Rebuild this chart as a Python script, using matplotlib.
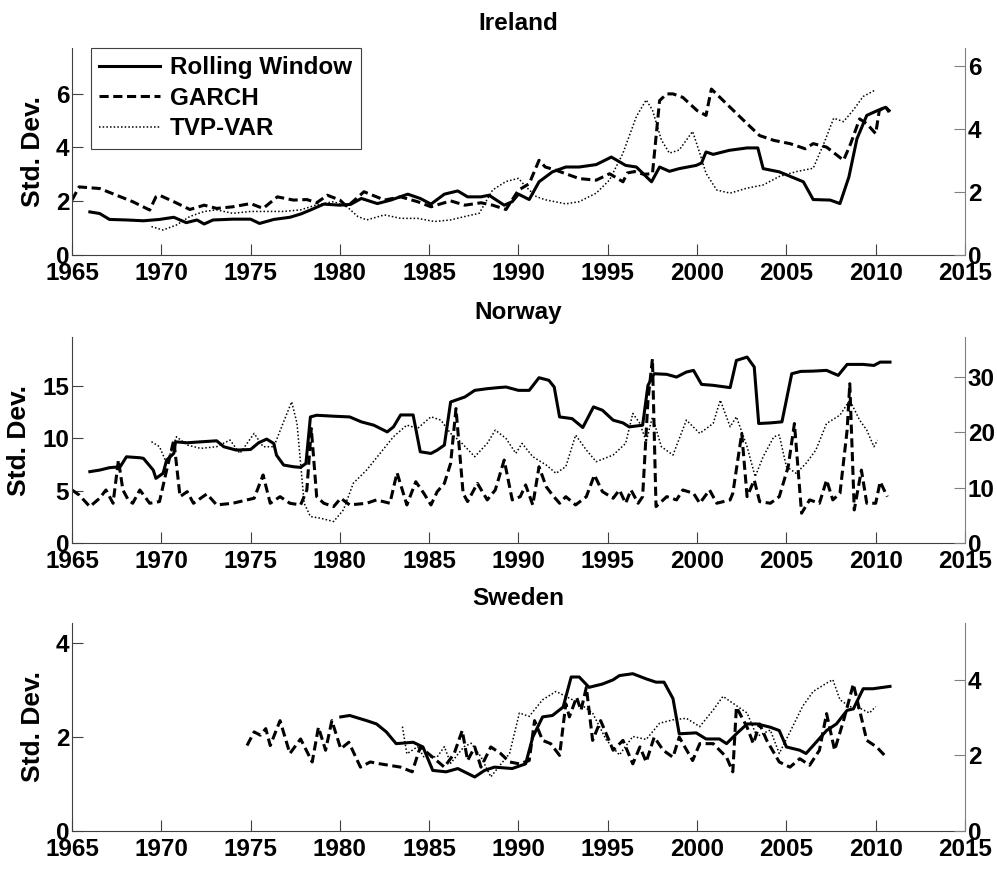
import numpy as np
import matplotlib
matplotlib.use("Agg")
import matplotlib.pyplot as plt

plt.rcParams['font.family'] = ['Liberation Sans', 'DejaVu Sans']
plt.rcParams['font.weight'] = 'bold'

# ---- Ireland ----
ie_roll_t = [1966.0, 1966.55, 1967.1, 1968.05, 1969.0, 1969.9, 1970.7, 1971.4, 1972.0, 1972.4,
             1972.9, 1974.0, 1975.0, 1975.5, 1976.3, 1977.2, 1977.8, 1978.35, 1979.1, 1980.0,
             1980.6, 1981.2, 1982.1, 1982.85, 1983.8, 1984.5, 1985.1, 1985.85, 1986.6, 1987.15,
             1987.9, 1988.35, 1989.2, 1989.65, 1990.0, 1990.6, 1991.15, 1991.9, 1992.65, 1993.4,
             1994.35, 1995.2, 1996.0, 1996.6, 1997.45, 1997.9, 1998.45, 1999.0, 1999.95, 2000.25,
             2000.5, 2000.9, 2001.8, 2002.8, 2003.4, 2003.7, 2004.6, 2005.95, 2006.5, 2007.45,
             2008.0, 2008.5, 2008.95, 2009.5, 2010.1, 2010.55, 2010.75]
ie_roll_v = [1.60, 1.54, 1.32, 1.30, 1.27, 1.32, 1.40, 1.20, 1.30, 1.15,
             1.30, 1.33, 1.33, 1.17, 1.32, 1.40, 1.52, 1.67, 1.89, 1.85,
             1.88, 2.10, 1.91, 2.04, 2.26, 2.10, 1.89, 2.26, 2.38, 2.16,
             2.16, 2.22, 1.85, 1.98, 2.26, 2.06, 2.72, 3.09, 3.27, 3.27,
             3.36, 3.64, 3.33, 3.27, 2.72, 3.27, 3.11, 3.21, 3.33, 3.42,
             3.83, 3.74, 3.89, 3.98, 3.98, 3.21, 3.09, 2.72, 2.06, 2.04,
             1.91, 2.90, 4.32, 5.19, 5.37, 5.49, 5.37]

ie_garch_t = [1965.0, 1965.4, 1966.55, 1967.5, 1968.4, 1969.35, 1969.7, 1969.9, 1970.7, 1971.6,
              1972.4, 1973.1, 1974.0, 1975.0, 1975.7, 1976.5, 1977.4, 1978.15, 1978.7, 1979.3,
              1980.0, 1980.4, 1981.35, 1982.5, 1983.4, 1984.35, 1985.1, 1986.2, 1987.0, 1987.9,
              1988.55, 1989.3, 1990.0, 1990.6, 1991.15, 1991.5, 1992.1, 1993.4, 1994.35, 1995.1,
              1995.85, 1996.1, 1996.5, 1997.0, 1997.5, 1997.9, 1998.3, 1998.65, 1999.2, 2000.0,
              2000.5, 2000.8, 2001.65, 2002.8, 2003.5, 2004.3, 2005.2, 2006.05, 2006.5, 2007.25,
              2008.2, 2008.6, 2009.1, 2009.5, 2010.0, 2010.2, 2010.55, 2010.75]
ie_garch_v = [2.04, 2.53, 2.47, 2.22, 1.98, 1.67, 2.16, 2.22, 1.98, 1.69,
              1.85, 1.73, 1.79, 1.91, 1.73, 2.16, 2.04, 2.06, 1.94, 2.22,
              2.04, 1.79, 2.35, 2.04, 2.16, 1.98, 1.79, 2.01, 1.85, 1.94,
              1.85, 1.69, 2.41, 2.65, 3.52, 3.27, 3.15, 2.84, 2.78, 3.02,
              2.72, 3.05, 3.10, 3.00, 3.02, 5.74, 5.99, 5.99, 5.86, 5.37,
              5.19, 6.17, 5.62, 4.88, 4.44, 4.26, 4.14, 3.95, 4.14, 4.01,
              3.52, 4.14, 5.06, 4.88, 4.51, 5.37, 5.52, 5.31]

ie_tvp_t = [1969.45, 1970.1, 1970.85, 1971.6, 1972.4, 1973.1, 1974.0, 1975.0, 1975.9, 1976.85,
            1977.8, 1978.7, 1979.65, 1980.4, 1981.0, 1981.5, 1982.5, 1983.4, 1984.35, 1985.3,
            1986.2, 1987.15, 1987.8, 1988.55, 1989.3, 1990.0, 1990.4, 1991.0, 1991.5, 1992.65,
            1993.4, 1994.35, 1995.1, 1995.85, 1996.6, 1997.15, 1997.5, 1998.0, 1998.45, 1999.0,
            1999.75, 2000.15, 2000.5, 2001.1, 2001.85, 2002.8, 2003.7, 2004.6, 2005.6, 2006.5,
            2007.1, 2007.65, 2008.2, 2008.75, 2009.3, 2010.0]
ie_tvp_v = [0.90, 0.79, 0.95, 1.22, 1.38, 1.43, 1.32, 1.38, 1.38, 1.38,
            1.43, 1.59, 1.69, 1.53, 1.22, 1.11, 1.27, 1.16, 1.16, 1.06,
            1.11, 1.24, 1.32, 2.06, 2.33, 2.43, 2.17, 1.85, 1.75, 1.62,
            1.69, 1.96, 2.38, 3.23, 4.39, 4.92, 4.60, 3.65, 3.23, 3.33,
            3.92, 3.23, 2.59, 2.06, 1.96, 2.12, 2.22, 2.49, 2.65, 2.75,
            3.54, 4.34, 4.23, 4.60, 5.03, 5.24]

# ---- Norway ----
no_roll_t = [1966.0, 1966.55, 1967.1, 1967.7, 1968.05, 1968.8, 1969.0, 1969.55, 1969.7, 1970.1,
             1970.3, 1970.7, 1970.8, 1971.45, 1972.2, 1973.1, 1973.5, 1974.2, 1975.0, 1975.45,
             1975.9, 1976.3, 1976.45, 1976.85, 1977.4, 1977.8, 1978.1, 1978.35, 1978.7, 1979.65,
             1980.55, 1981.2, 1981.9, 1982.65, 1983.0, 1983.4, 1984.1, 1984.5, 1985.1, 1985.45,
             1985.85, 1986.2, 1987.0, 1987.55, 1988.25, 1988.85, 1989.3, 1990.0, 1990.6, 1991.15,
             1991.7, 1992.0, 1992.3, 1993.0, 1993.6, 1994.2, 1994.7, 1995.3, 1995.85, 1996.2,
             1996.95, 1997.25, 1997.6, 1998.3, 1998.85, 1999.4, 1999.8, 2000.25, 2000.9, 2001.85,
             2002.2, 2002.8, 2003.2, 2003.45, 2004.1, 2004.75, 2005.3, 2005.8, 2006.5, 2007.25,
             2007.9, 2008.4, 2009.3, 2009.9, 2010.25, 2010.8]
no_roll_v = [6.83, 6.98, 7.21, 7.30, 8.25, 8.16, 8.10, 6.98, 6.19, 6.67,
             7.94, 8.57, 9.68, 9.59, 9.68, 9.78, 9.21, 8.89, 8.95, 9.59,
             9.94, 9.52, 8.41, 7.46, 7.30, 7.24, 7.62, 12.06, 12.22, 12.13,
             12.06, 11.59, 11.27, 10.63, 11.11, 12.25, 12.25, 8.73, 8.57, 8.89,
             9.37, 13.49, 13.97, 14.60, 14.76, 14.86, 14.92, 14.60, 14.60, 15.81,
             15.56, 14.92, 12.06, 11.90, 11.05, 13.02, 12.70, 11.75, 11.49, 11.11,
             11.27, 15.08, 16.19, 16.13, 15.87, 16.35, 16.51, 15.17, 15.08, 14.86,
             17.46, 17.78, 16.83, 11.43, 11.49, 11.59, 16.19, 16.41, 16.44, 16.51,
             16.03, 17.08, 17.08, 16.98, 17.30, 17.30]

no_garch_t = [1965.0, 1965.4, 1966.0, 1966.55, 1966.9, 1967.3, 1967.6, 1967.85, 1968.15, 1968.4,
              1968.8, 1969.35, 1969.9, 1970.3, 1970.7, 1971.05, 1971.45, 1971.8, 1972.55, 1973.1,
              1974.0, 1974.8, 1975.2, 1975.7, 1976.1, 1976.65, 1977.2, 1977.8, 1978.15, 1978.4,
              1978.7, 1979.1, 1979.65, 1980.05, 1980.55, 1981.5, 1982.05, 1982.8, 1983.2, 1983.75,
              1984.25, 1984.7, 1985.1, 1985.45, 1985.85, 1986.2, 1986.5, 1986.9, 1987.15, 1987.7,
              1988.25, 1988.7, 1989.2, 1989.65, 1990.1, 1990.4, 1990.8, 1991.15, 1991.55, 1991.9,
              1992.3, 1992.65, 1993.2, 1993.8, 1994.25, 1994.7, 1995.3, 1995.65, 1996.0, 1996.3,
              1996.7, 1996.95, 1997.25, 1997.5, 1997.7, 1998.3, 1998.85, 1999.2, 1999.8, 2000.15,
              2000.7, 2001.1, 2001.85, 2002.0, 2002.5, 2002.8, 2003.2, 2003.5, 2004.1, 2004.6,
              2005.1, 2005.45, 2005.85, 2006.3, 2006.85, 2007.25, 2007.6, 2008.0, 2008.4, 2008.55,
              2008.8, 2009.2, 2009.5, 2010.0, 2010.25, 2010.65]
no_garch_v = [5.08, 4.60, 3.49, 4.29, 5.08, 3.81, 7.94, 5.08, 4.13, 3.81,
              5.08, 3.81, 3.97, 6.98, 9.84, 4.44, 4.92, 3.81, 4.70, 3.65,
              3.81, 4.13, 4.29, 6.51, 3.81, 4.44, 3.81, 3.65, 5.08, 10.95,
              4.44, 3.81, 3.49, 4.29, 3.65, 3.81, 4.13, 3.81, 6.73, 3.65,
              5.87, 4.76, 3.65, 4.92, 5.71, 7.62, 12.86, 4.76, 3.97, 5.71,
              4.13, 5.08, 7.94, 4.13, 4.44, 5.56, 3.65, 7.30, 5.40, 4.60,
              3.81, 4.44, 3.65, 4.44, 6.51, 4.92, 4.29, 5.08, 3.81, 5.08,
              3.81, 4.44, 13.65, 17.62, 3.49, 4.44, 4.13, 5.08, 4.76, 3.81,
              5.08, 3.81, 4.13, 4.76, 10.48, 4.44, 6.03, 3.97, 3.81, 4.44,
              7.30, 11.43, 2.86, 4.13, 3.81, 6.03, 4.13, 4.76, 10.79, 15.24,
              3.17, 6.98, 3.81, 3.81, 5.87, 4.44]

no_tvp_t = [1969.45, 1969.9, 1970.3, 1970.85, 1971.45, 1972.2, 1973.1, 1973.85, 1974.4, 1975.2,
            1975.7, 1976.3, 1976.85, 1977.3, 1977.6, 1978.0, 1978.35, 1978.9, 1979.65, 1980.2,
            1980.75, 1981.5, 1982.25, 1983.0, 1983.75, 1984.35, 1985.1, 1985.65, 1986.2, 1986.75,
            1987.55, 1988.25, 1988.7, 1989.3, 1989.85, 1990.2, 1990.8, 1991.55, 1992.1, 1992.65,
            1993.2, 1993.8, 1994.35, 1995.3, 1996.0, 1996.4, 1996.8, 1997.15, 1997.5, 1998.0,
            1998.65, 1999.4, 2000.15, 2000.9, 2001.3, 2001.85, 2002.2, 2002.8, 2003.25, 2003.7,
            2004.3, 2004.6, 2005.0, 2005.55, 2006.1, 2006.65, 2007.25, 2008.0, 2008.55, 2009.1,
            2009.5, 2009.9, 2010.1]
no_tvp_v = [18.3, 17.4, 14.4, 19.2, 17.7, 17.1, 17.4, 18.6, 16.2, 19.8,
            17.4, 17.4, 21.9, 25.5, 21.6, 7.2, 4.8, 4.5, 3.9, 6.0,
            10.8, 13.2, 16.2, 19.2, 21.3, 20.7, 22.8, 22.2, 19.8, 18.3,
            15.6, 18.0, 20.4, 18.9, 16.2, 18.0, 15.6, 14.1, 12.6, 13.8,
            19.5, 16.8, 14.7, 15.9, 18.0, 23.4, 21.6, 18.3, 22.8, 17.4,
            15.9, 22.2, 19.8, 21.6, 25.8, 21.0, 22.8, 17.4, 12.0, 15.6,
            19.2, 19.5, 13.8, 12.6, 14.4, 16.8, 21.6, 23.1, 25.8, 22.2,
            20.4, 17.4, 18.6]

# ---- Sweden ----
se_roll_t = [1980.05, 1980.55, 1981.5, 1982.05, 1982.6, 1983.15, 1984.1, 1984.65, 1985.2, 1985.95,
             1986.6, 1987.55, 1988.1, 1988.65, 1989.65, 1990.4, 1990.8, 1991.35, 1991.9, 1992.5,
             1992.95, 1993.4, 1993.95, 1994.7, 1995.3, 1995.65, 1996.4, 1997.15, 1997.7, 1998.15,
             1998.65, 1999.0, 1999.95, 2000.5, 2001.25, 2001.65, 2002.2, 2002.8, 2003.35, 2004.1,
             2004.6, 2005.0, 2005.75, 2006.1, 2006.5, 2007.25, 2007.8, 2008.4, 2008.75, 2009.3,
             2009.85, 2010.8]
se_roll_v = [2.43, 2.46, 2.35, 2.28, 2.11, 1.86, 1.89, 1.79, 1.29, 1.26,
             1.33, 1.15, 1.29, 1.36, 1.33, 1.43, 2.00, 2.43, 2.46, 2.64,
             3.28, 3.28, 3.06, 3.13, 3.22, 3.31, 3.35, 3.24, 3.17, 3.17,
             2.82, 2.07, 2.09, 1.96, 1.96, 1.86, 2.07, 2.28, 2.28, 2.21,
             2.14, 1.79, 1.72, 1.65, 1.82, 2.14, 2.28, 2.57, 2.60, 3.03,
             3.03, 3.08]

se_garch_t = [1974.8, 1975.2, 1975.55, 1975.85, 1976.1, 1976.65, 1977.2, 1977.8, 1978.45, 1978.8,
              1979.2, 1979.55, 1980.05, 1980.5, 1981.15, 1981.7, 1982.25, 1983.4, 1984.05, 1984.5,
              1985.2, 1985.85, 1986.4, 1986.85, 1987.15, 1987.55, 1987.9, 1988.45, 1989.0, 1989.5,
              1990.05, 1990.6, 1990.9, 1991.35, 1991.8, 1992.3, 1992.65, 1992.85, 1993.25, 1993.5,
              1993.8, 1994.15, 1994.6, 1995.3, 1995.85, 1996.4, 1996.8, 1997.15, 1997.6, 1998.1,
              1998.65, 1999.0, 1999.75, 2000.15, 2000.9, 2001.65, 2002.0, 2002.2, 2002.8, 2003.15,
              2003.5, 2003.9, 2004.6, 2005.2, 2005.75, 2006.3, 2006.85, 2007.25, 2007.7, 2008.2,
              2008.75, 2009.1, 2009.5, 2010.05, 2010.6]
se_garch_v = [1.82, 2.11, 2.04, 2.18, 1.82, 2.35, 1.65, 1.96, 1.47, 2.21,
              1.72, 2.35, 1.75, 1.89, 1.36, 1.47, 1.43, 1.36, 1.26, 1.79,
              1.57, 1.36, 1.65, 2.14, 1.50, 1.79, 1.36, 1.79, 1.65, 1.47,
              1.43, 1.50, 2.35, 1.93, 1.86, 1.61, 2.71, 2.43, 2.85, 2.57,
              3.06, 1.93, 2.35, 1.72, 1.93, 1.43, 1.79, 1.47, 2.00, 1.72,
              1.57, 2.00, 1.50, 1.86, 1.86, 1.57, 1.26, 2.64, 2.21, 1.86,
              2.28, 1.93, 1.47, 1.36, 1.54, 1.40, 1.72, 2.50, 1.72, 2.35,
              3.13, 2.57, 1.93, 1.79, 1.57]

se_tvp_t = [1983.5, 1983.75, 1984.35, 1984.7, 1985.45, 1985.85, 1986.2, 1986.95, 1987.35, 1987.9,
            1988.45, 1988.9, 1989.5, 1990.05, 1990.6, 1991.35, 1992.1, 1992.65, 1993.4, 1994.15,
            1994.9, 1995.65, 1996.4, 1997.15, 1997.9, 1998.65, 1999.4, 2000.15, 2000.9, 2001.45,
            2002.0, 2002.8, 2003.35, 2004.1, 2004.6, 2005.35, 2005.9, 2006.5, 2007.25, 2007.6,
            2008.0, 2008.55, 2009.1, 2009.65, 2010.0]
se_tvp_v = [2.76, 2.04, 2.23, 1.96, 1.96, 2.23, 1.79, 2.23, 2.32, 1.96,
            1.43, 1.70, 2.05, 3.12, 3.03, 3.47, 3.69, 3.56, 3.38, 3.12,
            2.42, 2.01, 2.50, 2.42, 2.85, 2.94, 2.98, 2.76, 3.20, 3.56,
            3.38, 3.12, 2.50, 2.67, 2.05, 2.76, 3.29, 3.69, 3.91, 4.00,
            3.47, 3.29, 3.25, 3.12, 3.29]

panels = [
    ("Ireland", (ie_roll_t, ie_roll_v), (ie_garch_t, ie_garch_v), (ie_tvp_t, ie_tvp_v),
     7.7, [0, 2, 4, 6], 6.57, [0, 2, 4, 6]),
    ("Norway", (no_roll_t, no_roll_v), (no_garch_t, no_garch_v), (no_tvp_t, no_tvp_v),
     19.7, [0, 5, 10, 15], 37.2, [0, 10, 20, 30]),
    ("Sweden", (se_roll_t, se_roll_v), (se_garch_t, se_garch_v), (se_tvp_t, se_tvp_v),
     4.43, [0, 2, 4], 5.5, [0, 2, 4]),
]

fig = plt.figure(figsize=(9.97, 8.76), dpi=100, facecolor='white')
boxes = [[0.0722, 0.709, 0.8957, 0.2363],
         [0.0722, 0.380, 0.8957, 0.2353],
         [0.0722, 0.0514, 0.8957, 0.2374]]

fs = 17.5
for (name, roll, garch, tvp, ltop, lticks, rtop, rticks), box in zip(panels, boxes):
    ax = fig.add_axes(box)
    ax2 = ax.twinx()
    h1, = ax.plot(roll[0], roll[1], color='black', lw=2.2, ls='-')
    h2, = ax.plot(garch[0], garch[1], color='black', lw=2.2, ls=(0, (3, 1.5)))
    h3, = ax2.plot(tvp[0], tvp[1], color='black', lw=1.1, ls=(0, (1, 1.4)))

    ax.set_xlim(1965, 2015)
    ax.set_xticks(np.arange(1965, 2016, 5))
    ax.set_ylim(0, ltop)
    ax.set_yticks(lticks)
    ax2.set_ylim(0, rtop)
    ax2.set_yticks(rticks)
    ax.set_ylabel("Std. Dev.", fontsize=19, fontweight='bold', labelpad=8)
    ax.set_title(name, fontsize=fs, fontweight='bold', pad=13)

    for a in (ax, ax2):
        a.spines['top'].set_visible(False)
        a.patch.set_visible(False)
    ax.spines['right'].set_visible(False)
    ax2.spines['left'].set_visible(False)
    ax2.spines['bottom'].set_visible(False)
    ax.spines['left'].set_color('#404040')
    ax.spines['bottom'].set_color('#404040')
    ax2.spines['right'].set_color('#808080')
    ax.tick_params(axis='both', direction='in', length=8, width=0.8, color='#404040',
                   labelsize=fs, pad=2)
    ax.tick_params(axis='x', pad=5)
    ax2.tick_params(axis='y', direction='in', length=8, width=0.8, color='#808080',
                    labelsize=fs, pad=2)
    for lab in ax.get_xticklabels() + ax.get_yticklabels() + ax2.get_yticklabels():
        lab.set_fontweight('bold')

    if name == "Ireland":
        leg = ax2.legend([h1, h2, h3], ["Rolling Window", "GARCH", "TVP-VAR"],
                         loc='upper left', bbox_to_anchor=(19 / 893, 1.0), borderaxespad=0,
                         fancybox=False, framealpha=1, edgecolor='#404040',
                         prop={'size': fs, 'weight': 'bold'}, handlelength=2.5,
                         handletextpad=0.4, labelspacing=0.3, borderpad=0.35)
        leg.get_frame().set_linewidth(0.8)

fig.savefig("out.png", dpi=100, facecolor='white')
